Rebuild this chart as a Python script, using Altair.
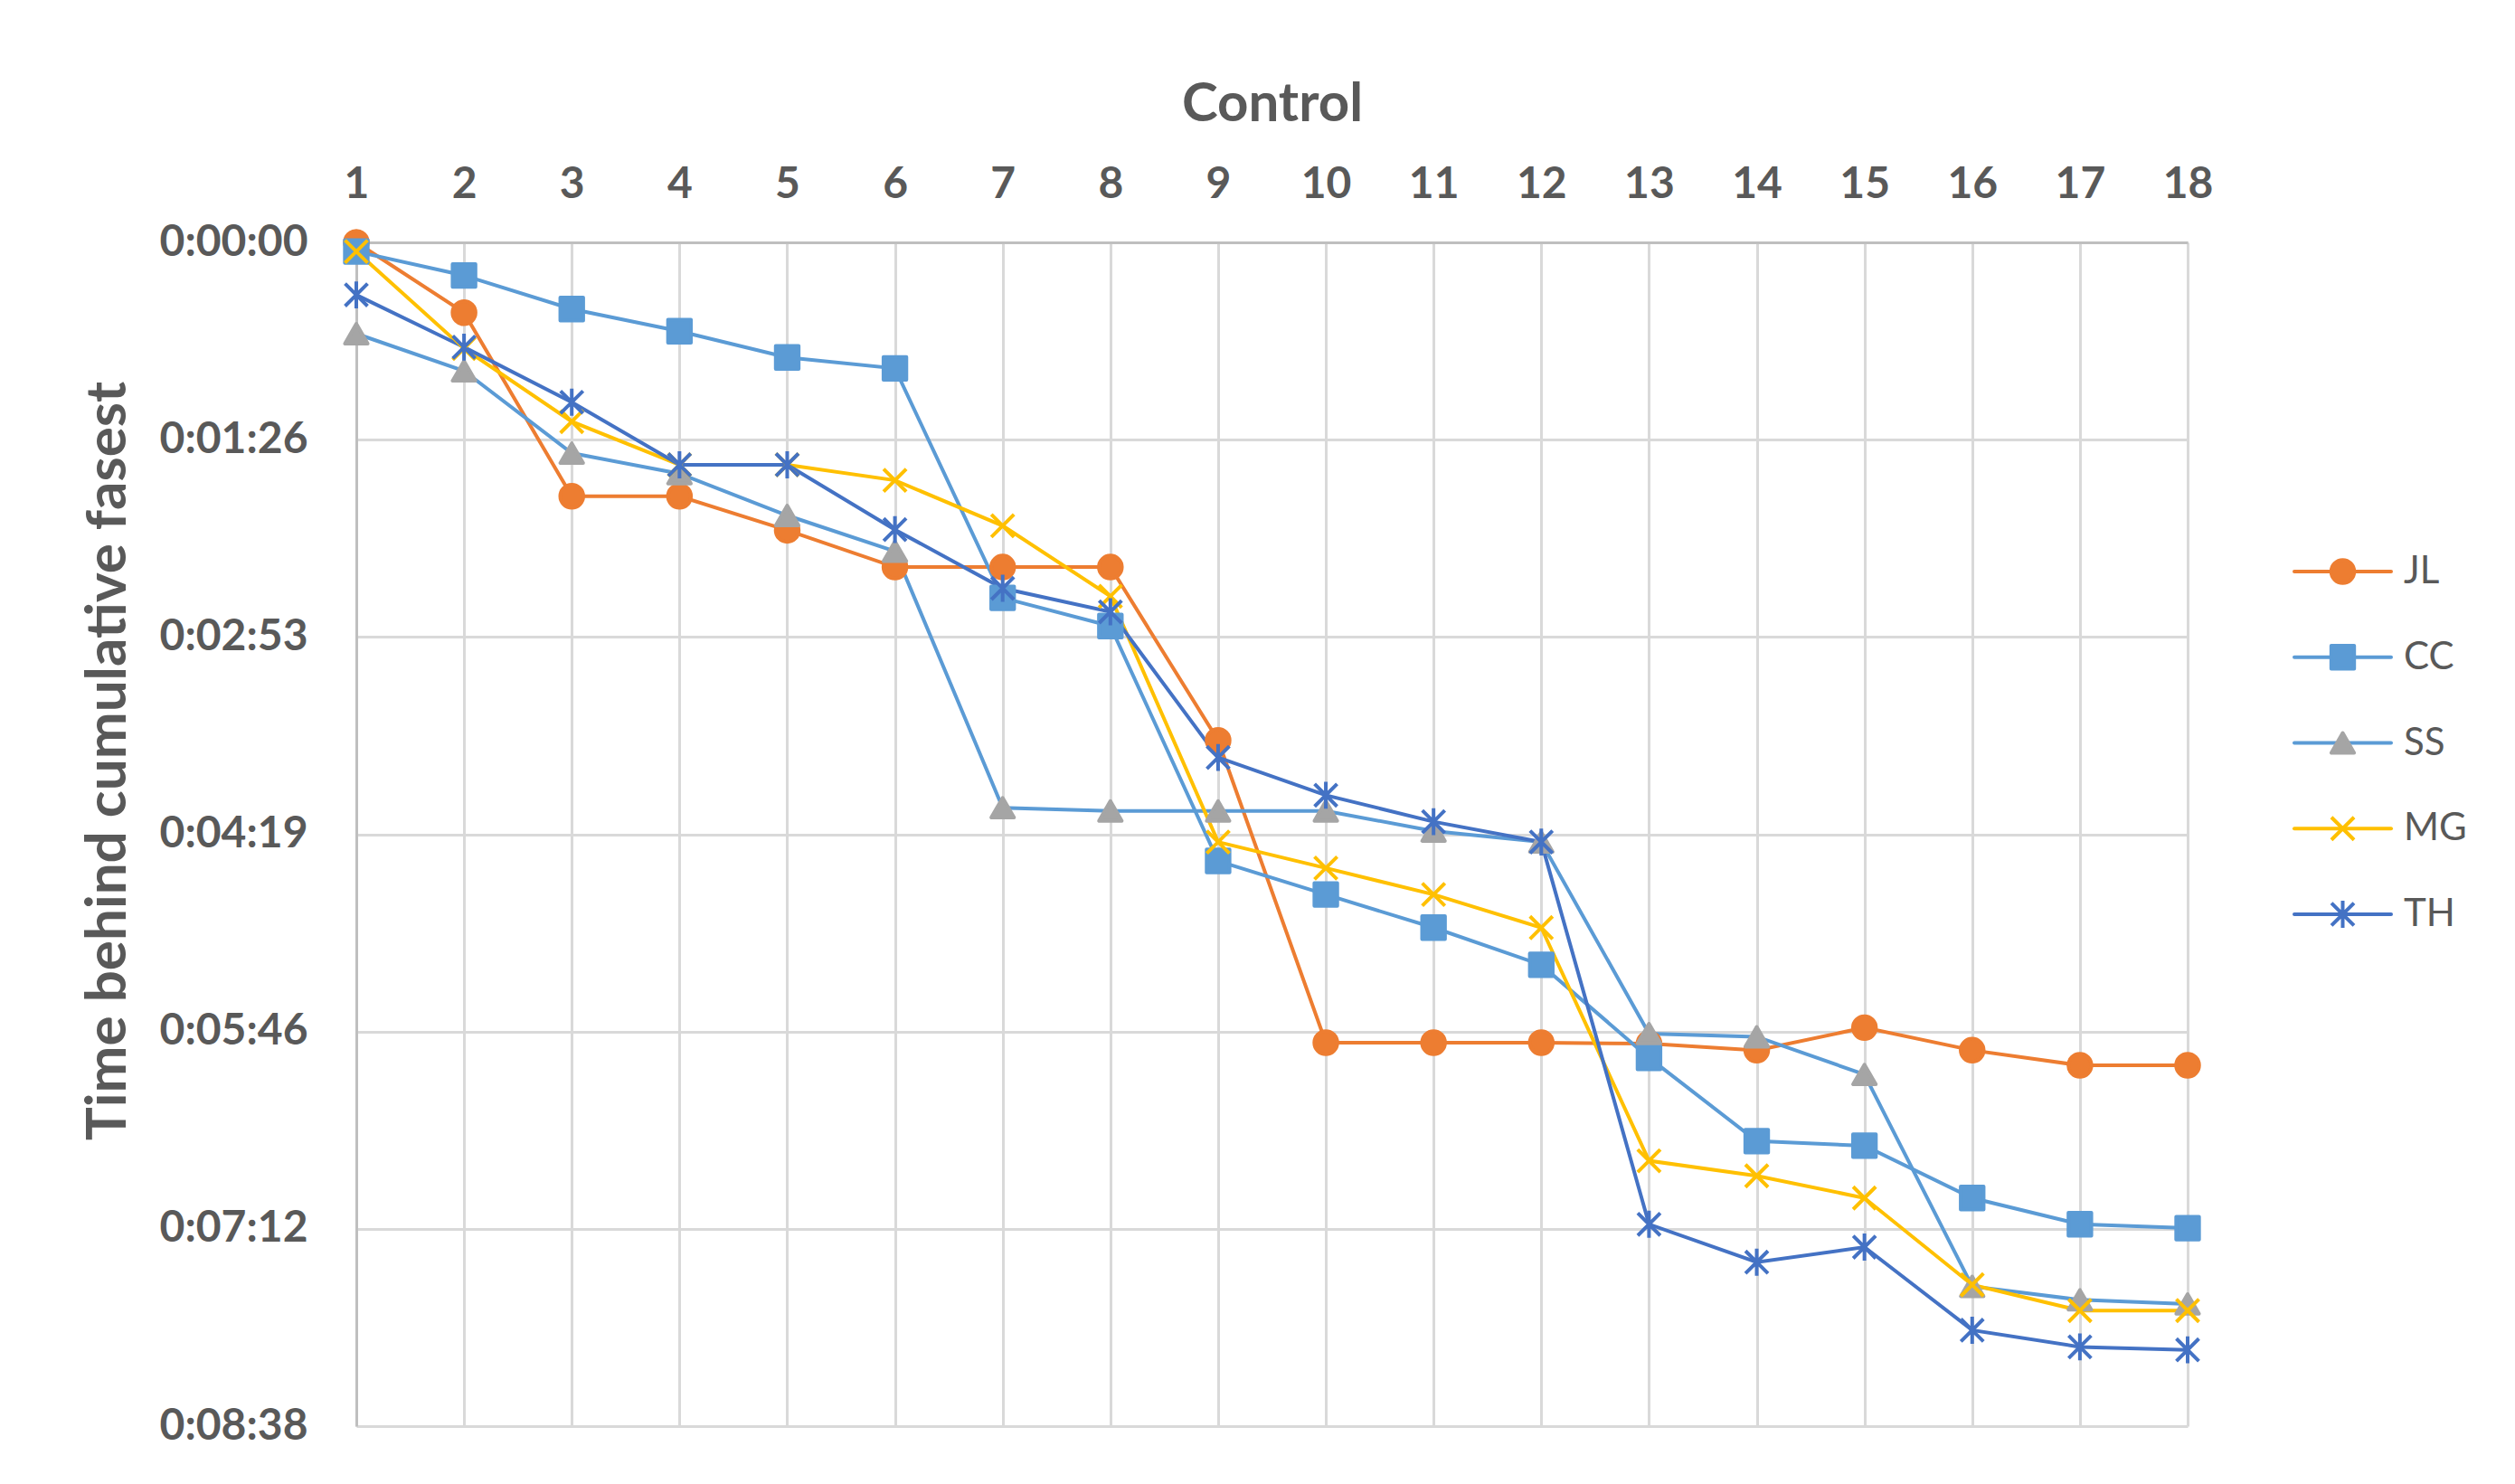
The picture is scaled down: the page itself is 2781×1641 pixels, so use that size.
import altair as alt
import pandas as pd

# ---------------- data ----------------
controls = list(range(1, 19))
series_names = ["JL", "CC", "SS", "MG", "TH"]

# seconds behind cumulative fastest, per control
jl = [0.0, 30.8, 111.2, 111.2, 126.1, 142.2, 142.2, 142.2, 218.1, 350.5, 350.5, 350.5, 350.9, 353.8, 343.9, 353.8, 360.4, 360.4]
cc = [4.0, 14.5, 29.2, 38.9, 50.4, 55.2, 155.7, 168.0, 270.9, 285.6, 300.1, 316.4, 357.1, 393.6, 395.6, 418.5, 430.0, 431.7]
ss = [40.0, 56.3, 92.3, 101.3, 119.6, 135.3, 247.6, 249.0, 249.0, 249.0, 257.8, 262.6, 346.5, 347.9, 364.4, 457.2, 463.1, 464.9]
mg = [4.0, 46.5, 78.5, 97.4, 97.4, 104.2, 124.1, 155.0, 262.6, 274.0, 285.6, 300.1, 402.2, 408.8, 418.5, 456.5, 467.8, 467.8]
th = [23.0, 45.9, 70.0, 97.4, 97.4, 125.8, 151.5, 161.8, 225.6, 242.1, 253.7, 262.6, 430.0, 446.6, 440.0, 476.4, 483.7, 485.0]

tick_seconds = [0, 86.4, 172.8, 259.2, 345.6, 432.0, 518.4]
tick_labels = ["0:00:00", "0:01:26", "0:02:53", "0:04:19", "0:05:46", "0:07:12", "0:08:38"]

# ---------------- styles ----------------
line_colors = ["#ED7D31", "#5B9BD5", "#5B9BD5", "#FFC000", "#4472C4"]
marker_colors = ["#ED7D31", "#5B9BD5", "#A5A5A5", "#FFC000", "#4472C4"]
marker_shapes = [
    "circle",
    "square",
    "triangle-up",
    "M-1,-1L1,1M-1,1L1,-1",
    "M-1,-1L1,1M-1,1L1,-1M0,-1.2L0,1.2",
]
marker_sizes = [650, 620, 720, 720, 720]

TEXT = "#595959"
FONT = "Lato"

rows = []
for name, vals in zip(series_names, [jl, cc, ss, mg, th]):
    for c, v in zip(controls, vals):
        rows.append({"series": name, "control": c, "seconds": v})
df = pd.DataFrame(rows)

label_expr = "[" + ",".join("'%s'" % t for t in tick_labels) + "][round(datum.value / %s)]" % tick_seconds[1]

color_line = alt.Color("series:N", scale=alt.Scale(domain=series_names, range=line_colors), legend=None)
fill_mark = alt.Fill("series:N", scale=alt.Scale(domain=series_names, range=marker_colors), legend=None)
stroke_mark = alt.Stroke("series:N", scale=alt.Scale(domain=series_names, range=marker_colors), legend=None)
shape_mark = alt.Shape("series:N", scale=alt.Scale(domain=series_names, range=marker_shapes), legend=None)
size_mark = alt.Size("series:N", scale=alt.Scale(domain=series_names, range=marker_sizes), legend=None)

x_enc = alt.X(
    "control:Q",
    scale=alt.Scale(domain=[1, 18], nice=False, zero=False),
    axis=alt.Axis(
        orient="top", values=controls, format="d", title="Control",
        labelFontSize=48, labelPadding=40, titleFontSize=60, titlePadding=34,
        labelFlush=False,
    ),
)
y_enc = alt.Y(
    "seconds:Q",
    scale=alt.Scale(domain=[tick_seconds[0], tick_seconds[-1]], reverse=True, nice=False, zero=False),
    axis=alt.Axis(
        values=tick_seconds, labelExpr=label_expr, title="Time behind cumulative fasest",
        labelFontSize=48, labelPadding=54, titleFontSize=62, titlePadding=43,
        titleY=573, labelFlush=False,
    ),
)

lines = alt.Chart(df).mark_line(strokeWidth=4).encode(
    x=x_enc, y=y_enc, color=color_line, order="control:Q"
)
points = alt.Chart(df).mark_point(
    filled=True, strokeWidth=4, opacity=1, fillOpacity=1, strokeOpacity=1, strokeJoin="round"
).encode(
    x="control:Q", y="seconds:Q", fill=fill_mark, stroke=stroke_mark, shape=shape_mark, size=size_mark
)

main = alt.layer(lines, points).properties(width=2025, height=1309)

# ---------------- legend panel ----------------
leg_df = pd.DataFrame({"series": series_names, "x0": 0.0, "x1": 1.0, "xm": 0.5})
names_js = "[" + ",".join("'%s'" % s for s in series_names) + "]"
leg_y = alt.Y(
    "idx:Q",
    scale=alt.Scale(domain=[0, len(series_names) - 1], range=[364, 743], nice=False, zero=False),
    axis=None,
)
leg_x_scale = alt.Scale(domain=[0, 1], nice=False, zero=False)

leg_base = alt.Chart(leg_df).transform_calculate(idx="indexof(%s, datum.series)" % names_js)

leg_rule = leg_base.mark_rule(strokeWidth=4, strokeCap="round").encode(
    x=alt.X("x0:Q", scale=leg_x_scale, axis=None), x2="x1:Q", y=leg_y, color=color_line
)
leg_pts = leg_base.mark_point(
    filled=True, strokeWidth=4, opacity=1, fillOpacity=1, strokeOpacity=1, strokeJoin="round"
).encode(
    x=alt.X("xm:Q", scale=leg_x_scale, axis=None), y=leg_y,
    fill=fill_mark, stroke=stroke_mark, shape=shape_mark, size=size_mark,
)
leg_txt = leg_base.mark_text(
    align="left", baseline="middle", dx=14, font=FONT, fontSize=42, color=TEXT
).encode(x=alt.X("x1:Q", scale=leg_x_scale, axis=None), y=leg_y, text="series:N")

legend = alt.layer(leg_rule, leg_pts, leg_txt).properties(width=107, height=1309)

chart = (
    alt.hconcat(main, legend, spacing=88)
    .resolve_scale(x="independent", y="independent")
    .properties(padding={"left": 80, "top": 77, "right": 5, "bottom": 5}, background="white")
    .configure_view(stroke=None)
    .configure_axis(
        labelFont=FONT, labelFontWeight="bold", labelColor=TEXT,
        titleFont=FONT, titleFontWeight="bold", titleColor=TEXT,
        domainColor="#BFBFBF", domainWidth=3,
        gridColor="#D9D9D9", gridWidth=3,
        ticks=False, tickSize=0,
    )
)

chart.save("out.html", embed_options={"renderer": "svg", "actions": False})
